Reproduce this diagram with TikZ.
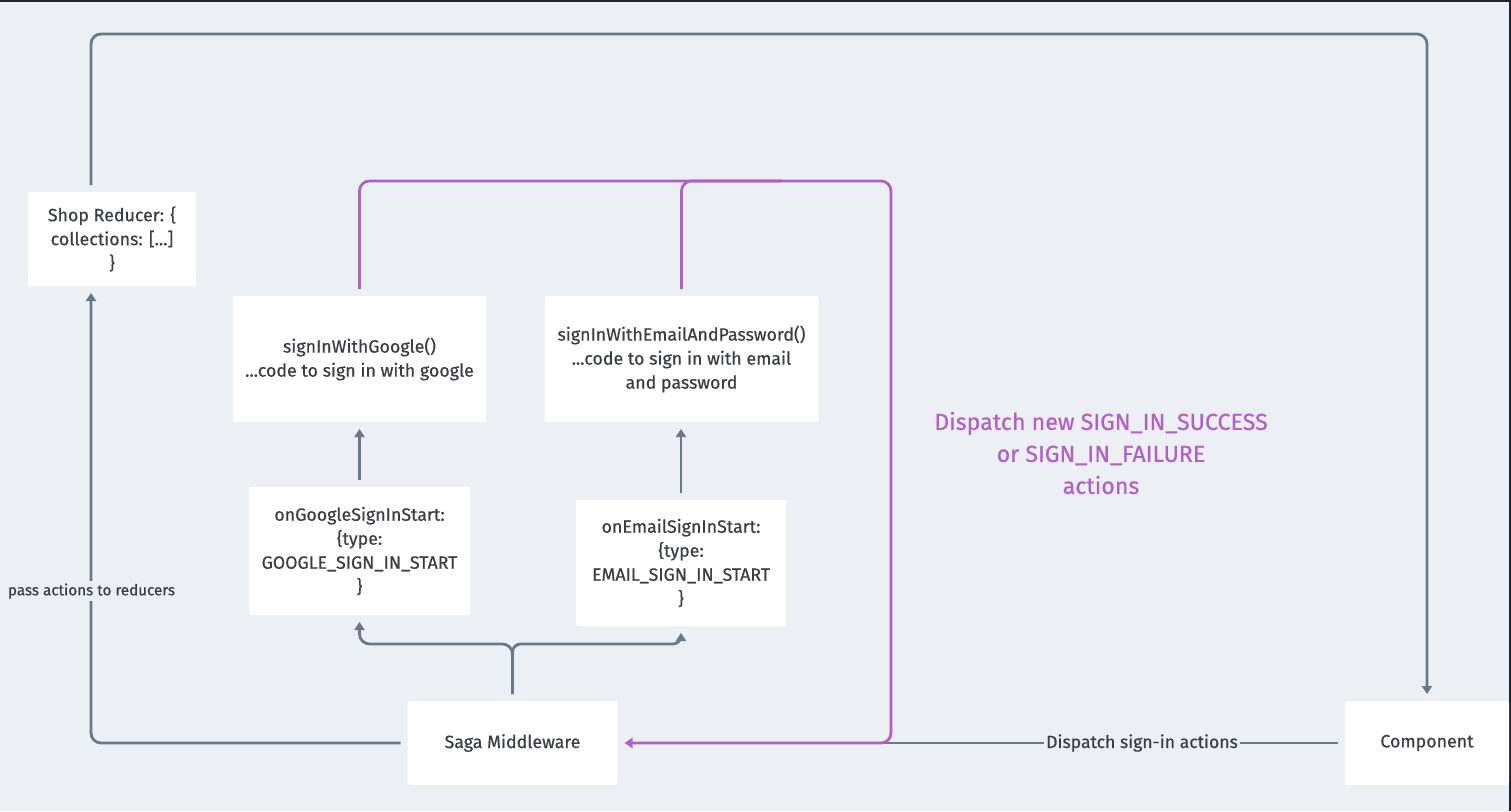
\documentclass[tikz,border=0pt]{standalone}
\usepackage{fontspec}
\setmainfont{Fira Sans}[FakeBold=0.5]
\usetikzlibrary{arrows.meta}
\definecolor{bg}{HTML}{ECEFF4}
\definecolor{edge}{HTML}{6B7888}
\definecolor{txt}{HTML}{3A3D42}
\definecolor{purp}{HTML}{B260C8}
\definecolor{frame}{HTML}{1F232B}
\begin{document}
\begin{tikzpicture}[x=1bp,y=-1bp, line join=round,
  box/.style={fill=white, rounded corners=2bp, inner sep=0pt, outer sep=7bp, align=center, text=txt, font=\fontsize{17.8bp}{24bp}\selectfont},
  gline/.style={draw=edge, line width=2.8bp, rounded corners=10bp},
  pline/.style={draw=purp, line width=2.8bp, rounded corners=10bp},
  tip/.style={-{Triangle[width=10bp,length=8bp]}},
  lbl/.style={fill=bg, text=txt, inner sep=2bp}]
\fill[frame] (0,0) rectangle (1511,811);
\fill[bg] (0,2) rectangle (1509,811);
\useasboundingbox (0,0) rectangle (1511,811);

\node[box, minimum width=168bp, minimum height=94bp] (shop) at (112,239) {Shop Reducer: \{\\collections: [...]\\\}};
\node[box, minimum width=253bp, minimum height=126bp] (google) at (359.5,359) {signInWithGoogle()\\...code to sign in with google};
\node[box, minimum width=274bp, minimum height=126bp] (email) at (681.5,359) {signInWithEmailAndPassword()\\...code to sign in with email\\and password};
\node[box, minimum width=221bp, minimum height=128bp] (ong) at (359.5,551) {onGoogleSignInStart:\\\{type:\\GOOGLE\_SIGN\_IN\_START\\\}};
\node[box, minimum width=210bp, minimum height=126bp] (one) at (681,563) {onEmailSignInStart:\\\{type:\\EMAIL\_SIGN\_IN\_START\\\}};
\node[box, minimum width=210bp, minimum height=84bp] (saga) at (512.5,743) {Saga Middleware};
\node[box, minimum width=164bp, minimum height=84bp] (comp) at (1427,743) {Component};

\coordinate (ytop) at (0,34);
\coordinate (ypur) at (0,181);
\coordinate (xpur) at (891,0);
\coordinate (xl) at (91,0);
\coordinate (fork) at (0,644);
\coordinate (gend) at (884,743);

% top grey loop
\draw[gline, tip] (xl |- shop.north) -- (xl |- ytop) -- (comp.north |- ytop) -- (comp.north);
% saga to reducers
\draw[gline, tip] (saga.west) -- (xl |- saga.west) -- (xl |- shop.south);
\node[lbl, font=\fontsize{15.2bp}{20bp}\selectfont] (pass) at (91.5,591) {pass actions to reducers};
% component dispatch
\draw[gline] (comp.west) -- (gend);
\node[lbl, font=\fontsize{17.6bp}{22bp}\selectfont] (dsa) at (1142,743) {Dispatch sign-in actions};

% purple loop
\draw[pline] (email.north) -- (email.north |- ypur) -- ++(100,0);
\draw[pline, tip] (google.north) -- (google.north |- ypur) -- (xpur |- ypur) -- (xpur |- saga.east) -- (saga.east);

% vertical arrows
\draw[gline, tip] (ong.north) -- (google.south);
\draw[gline, tip] (one.north) -- (one.north |- email.south);

% fork
\draw[gline, tip] (saga.north) -- (saga.north |- fork) -- (ong.south |- fork) -- (ong.south);
\draw[gline, tip, rounded corners=8bp] (saga.north) -- (saga.north |- fork) -- (one.south |- fork) -- (one.south);

\node[text=purp, align=center, font=\fontsize{23.2bp}{32bp}\selectfont] (disp) at (1101,453) {Dispatch new SIGN\_IN\_SUCCESS\\or SIGN\_IN\_FAILURE\\actions};
\end{tikzpicture}
\end{document}
